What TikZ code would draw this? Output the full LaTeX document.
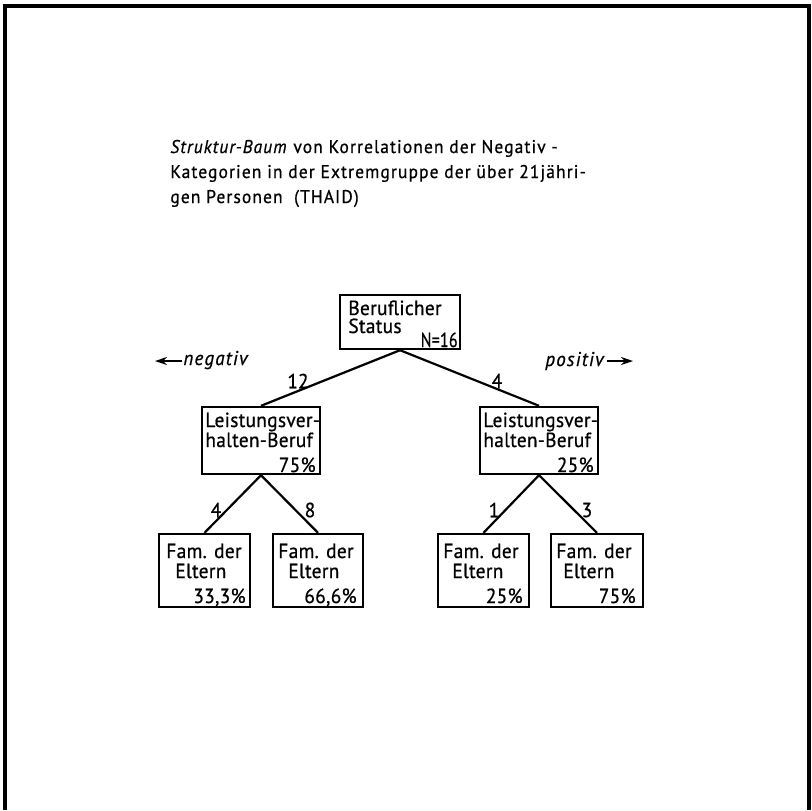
\documentclass[tikz,border=0pt]{standalone}
\usepackage{fontspec}
\setmainfont[FakeStretch=0.95,FakeBold=0.7]{PT Sans}
\usetikzlibrary{arrows.meta}
\tikzset{
  box/.style={draw, line width=1.2pt, inner sep=0pt},
  edge/.style={line width=1.1pt},
  btxt/.style={inner sep=0pt, font=\fontsize{10.2}{12}\selectfont\addfontfeatures{LetterSpace=1.5}},
  ttl/.style={inner sep=0pt, anchor=base west, font=\fontsize{9.2}{11}\selectfont\addfontfeatures{LetterSpace=6}},
  num/.style={inner sep=0pt, font=\fontsize{10.2}{12}\selectfont},
  dirtxt/.style={inner sep=0pt, anchor=base west, font=\fontsize{10}{12}\selectfont\itshape\addfontfeatures{LetterSpace=6}},
  dirarrow/.style={line width=1.1pt, -{Stealth[length=6pt,width=4pt]}}
}
\begin{document}
\begin{tikzpicture}[x=0.5pt,y=-0.5pt]
\useasboundingbox (0,0) rectangle (812,810);
% frame
\draw[line width=1.6pt] (5,810) -- (5,6) -- (809,6) -- (809,810);
% title
\node[ttl] (t1) at (170,153) {\textit{Struktur-Baum} von Korrelationen der Negativ -};
\node[ttl] (t2) at (170,178) {Kategorien in der Extremgruppe der über 21jähri-};
\node[ttl] (t3) at (170,203) {gen Personen\ \ (THAID)};
% boxes
\node[box, minimum width=60pt, minimum height=27pt] (root) at (400,322) {};
\node[box, minimum width=59pt, minimum height=33.5pt] (ml) at (261,440.5) {};
\node[box, minimum width=59pt, minimum height=33.5pt] (mr) at (539,440.5) {};
\node[box, minimum width=45.5pt, minimum height=36.5pt] (l1) at (204.5,570.5) {};
\node[box, minimum width=45pt, minimum height=36.5pt] (l2) at (318,570.5) {};
\node[box, minimum width=45.5pt, minimum height=36.5pt] (r1) at (483.5,570.5) {};
\node[box, minimum width=46pt, minimum height=36.5pt] (r2) at (597,570.5) {};
% box texts
\node[btxt, anchor=base west] (rt1) at (348,315) {Beruflicher};
\node[btxt, anchor=base west] (rt2) at (348,333) {Status};
\node[btxt, anchor=base east] (rt3) at (458,347) {\scalebox{0.82}[1]{N=16}};
\node[btxt, anchor=base west] (mlt1) at (205,427) {Leistungsver-};
\node[btxt, anchor=base west] (mlt2) at (205,447) {halten-Beruf};
\node[btxt, anchor=base east] (mlt3) at (316,472) {75\%};
\node[btxt, anchor=base west] (mrt1) at (483,427) {Leistungsver-};
\node[btxt, anchor=base west] (mrt2) at (483,447) {halten-Beruf};
\node[btxt, anchor=base east] (mrt3) at (594,472) {25\%};
\node[btxt, anchor=base west] (l1a) at (166,558) {Fam. der};
\node[btxt, anchor=base west] (l1b) at (175,578) {Eltern};
\node[btxt, anchor=base east] (l1c) at (246,603) {33,3\%};
\node[btxt, anchor=base west] (l2a) at (278,558) {Fam. der};
\node[btxt, anchor=base west] (l2b) at (288,578) {Eltern};
\node[btxt, anchor=base east] (l2c) at (357,603) {66,6\%};
\node[btxt, anchor=base west] (r1a) at (443,558) {Fam. der};
\node[btxt, anchor=base west] (r1b) at (452,578) {Eltern};
\node[btxt, anchor=base east] (r1c) at (523,603) {25\%};
\node[btxt, anchor=base west] (r2a) at (556,558) {Fam. der};
\node[btxt, anchor=base west] (r2b) at (563,578) {Eltern};
\node[btxt, anchor=base east] (r2c) at (636,603) {75\%};
% edges
\draw[edge] (root.south) -- (ml.north);
\draw[edge] (root.south) -- (mr.north);
\draw[edge] (ml.south) -- (l1.north);
\draw[edge] (ml.south) -- (l2.north);
\draw[edge] (mr.south) -- (r1.north);
\draw[edge] (mr.south) -- (r2.north);
% edge labels
\node[num] (n12) at (298,381) {12};
\node[num] (n4a) at (497,381) {4};
\node[num] (n4b) at (216,510) {4};
\node[num] (n8) at (310,510) {8};
\node[num] (n1) at (494,510) {1};
\node[num] (n3) at (587,510) {3};
% direction labels
\node[dirtxt] (neg) at (183,365) {negativ};
\coordinate (negend) at (155,361);
\draw[dirarrow] (neg.west |- negend) ++(-1,0) -- (negend);
\node[dirtxt] (pos) at (545,366) {positiv};
\coordinate (posend) at (633,361);
\draw[dirarrow] (pos.east |- posend) ++(3,0) -- (posend);
\end{tikzpicture}
\end{document}
